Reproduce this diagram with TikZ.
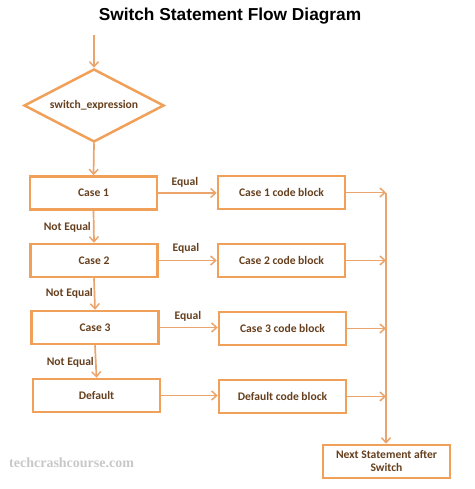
\documentclass[tikz,border=0pt]{standalone}
\usepackage{fontspec}
\setmainfont{Carlito}
\newfontfamily\titlefont{Liberation Sans}
\newfontfamily\wmfont{Liberation Serif}
\usetikzlibrary{shapes.geometric,arrows.meta}
\definecolor{boxorange}{HTML}{F0A058}
\definecolor{lineorange}{HTML}{EBA56C}
\definecolor{txtbrown}{HTML}{66401E}
\definecolor{wmgray}{HTML}{C8C8C8}
\tikzset{
  blk/.style={draw=boxorange, line width=2.5pt, minimum width=127pt, minimum height=33pt,
    inner sep=2pt, font=\fontsize{11.6}{13}\selectfont\bfseries, text=txtbrown, align=center},
  dia/.style={diamond, draw=boxorange, line width=2.5pt, minimum width=140pt, minimum height=73pt,
    aspect=1.89, inner sep=0pt, font=\fontsize{11.6}{13}\selectfont\bfseries, text=txtbrown},
  conn/.style={draw=lineorange, line width=1.7pt, -{Straight Barb[length=5pt,width=9pt,line width=1.5pt]}},
  lbl/.style={font=\fontsize{11.6}{13}\selectfont\bfseries, text=txtbrown, inner sep=0pt}
}
\begin{document}
\begin{tikzpicture}[x=1pt,y=-1pt]
\useasboundingbox (0,0) rectangle (474,489);
\node[font=\titlefont\fontsize{17.3}{19}\selectfont\bfseries, text=black] (title) at (230,16) {Switch Statement Flow Diagram};
\coordinate (start) at (94,35);
\node[dia] (sw) at (94,105.5) {switch\_expression};
\node[blk] (c1) at (93.5,193) {Case 1};
\node[blk] (c2) at (94,260.5) {Case 2};
\node[blk] (c3) at (95,327.5) {Case 3};
\node[blk] (def) at (96.5,395.5) {Default};
\node[blk] (b1) at (281.5,192.5) {Case 1 code block};
\node[blk] (b2) at (281.5,260.5) {Case 2 code block};
\node[blk] (b3) at (282.5,328.5) {Case 3 code block};
\node[blk] (bd) at (282.5,396.5) {Default code block};
\node[blk] (next) at (386.5,461.5) {Next Statement after\\Switch};
\coordinate (m1) at (386,192.5);
\coordinate (m2) at (386,260.5);
\coordinate (m3) at (386,328.5);
\coordinate (m4) at (386,396.5);
\draw[conn] (start) -- (sw.north);
\draw[conn] (sw.south) -- (c1.north);
\draw[conn] (c1.south) -- (c2.north);
\draw[conn] (c2.south) -- (c3.north);
\draw[conn] (c3.south) -- (def.north);
\draw[conn] (c1.east) -- (b1.west |- c1.east);
\draw[conn] (c2.east) -- (b2.west |- c2.east);
\draw[conn] (c3.east) -- (b3.west |- c3.east);
\draw[conn] (def.east) -- (bd.west |- def.east);
\draw[conn] (b1.east) -- (m1);
\draw[conn] (b2.east) -- (m2);
\draw[conn] (b3.east) -- (m3);
\draw[conn] (bd.east) -- (m4);
\draw[conn] (m1) -- (next.north -| m1);
\node[lbl] (e1) at (185,182) {Equal};
\node[lbl] (e2) at (186,248) {Equal};
\node[lbl] (e3) at (188,316) {Equal};
\node[lbl, anchor=east] (n1) at (91,227) {Not Equal};
\node[lbl, anchor=east] (n2) at (93,293.5) {Not Equal};
\node[lbl, anchor=east] (n3) at (94,362) {Not Equal};
\node[font=\wmfont\fontsize{14}{16}\selectfont\bfseries, text=wmgray, anchor=west, inner sep=0pt] (wm) at (9,463) {techcrashcourse.com};
\end{tikzpicture}
\end{document}
